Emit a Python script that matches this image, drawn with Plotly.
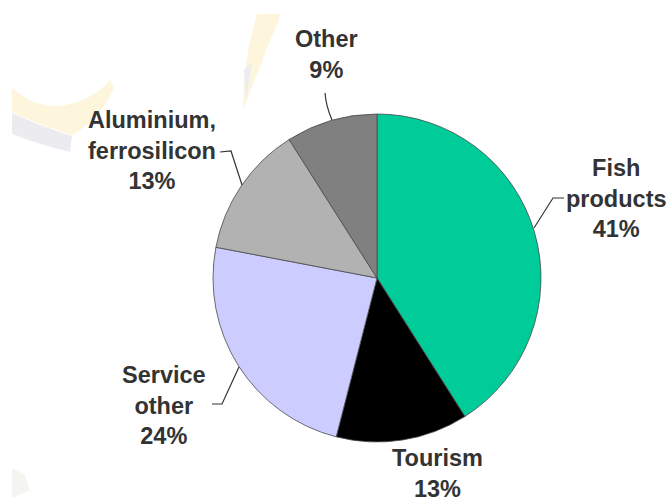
import plotly.graph_objects as go

categories = ["Fish products", "Tourism", "Service other", "Aluminium, ferrosilicon", "Other"]
shares = [41, 13, 24, 13, 9]
colors = ["#00CC99", "#000000", "#CCCCFF", "#B2B2B2", "#808080"]
label_lines = [["Fish", "products"], ["Tourism"], ["Service", "other"], ["Aluminium,", "ferrosilicon"], ["Other"]]
label_centres = [(616, 198), (437, 473), (164, 405), (152, 151), (326, 54)]

W, H = 672, 502
FONT = "Liberation Sans"


def px(x):
    return x / W


def py(y):
    return 1 - y / H


fig = go.Figure(go.Pie(
    labels=categories,
    values=shares,
    sort=False,
    direction="clockwise",
    rotation=0,
    textinfo="none",
    hoverinfo="label+percent",
    showlegend=False,
    marker=dict(colors=colors, line=dict(color="#4a4a4a", width=0.8)),
    domain=dict(x=[px(213), px(541)], y=[py(442), py(114)]),
))

annotations = []
for lines, share, (cx, cy) in zip(label_lines, shares, label_centres):
    annotations.append(dict(
        text="<br>".join(f"<b>{t}</b>" for t in lines + [f"{share}%"]),
        x=px(cx), y=py(cy), xref="paper", yref="paper",
        xanchor="center", yanchor="middle", align="center", showarrow=False,
        font=dict(family=FONT, size=23.5, color="#333333"),
    ))

leaders = [
    "M 564 198 L 553 198 L 534 228",
    "M 220 152 L 231 151 L 242 185",
    "M 325 93 Q 326 106 332 120",
    "M 212 404 L 222 404 L 239 367",
]


def to_paper(path):
    out, is_x = [], True
    for tok in path.split():
        if tok.isalpha():
            out.append(tok)
        else:
            out.append(f"{px(float(tok)):.5f}" if is_x else f"{py(float(tok)):.5f}")
            is_x = not is_x
    return " ".join(out)


backdrop = [
    ("M 12 88 Q 40 112 70 104 Q 95 98 110 80 L 114 88 Q 100 120 72 135 Q 40 125 12 112 Z", "#FDF5DC"),
    ("M 12 113 Q 40 126 72 136 L 70 152 Q 40 145 12 134 Z", "#ECECF0"),
    ("M 257 14 L 281 14 Q 262 60 243 110 Q 243 60 257 14 Z", "#FDF5DC"),
    ("M 244 70 L 252 62 L 246 100 Z", "#ECECF2"),
    ("M 12 468 L 24 474 L 30 490 L 12 498 Z", "#F4F4F0"),
]
shapes = [dict(type="path", xref="paper", yref="paper", layer="below",
               path=to_paper(p), fillcolor=c, line=dict(width=0)) for p, c in backdrop]
shapes += [dict(type="path", xref="paper", yref="paper", layer="above",
                path=to_paper(p), line=dict(color="#333333", width=1.2)) for p in leaders]

fig.update_layout(
    width=W, height=H,
    margin=dict(l=0, r=0, t=0, b=0),
    paper_bgcolor="white",
    annotations=annotations,
    shapes=shapes,
    font=dict(family=FONT),
)

fig.write_html("out.html", config=dict(displayModeBar=False),
               post_script="document.body.style.margin='0';document.body.style.overflow='hidden';")
